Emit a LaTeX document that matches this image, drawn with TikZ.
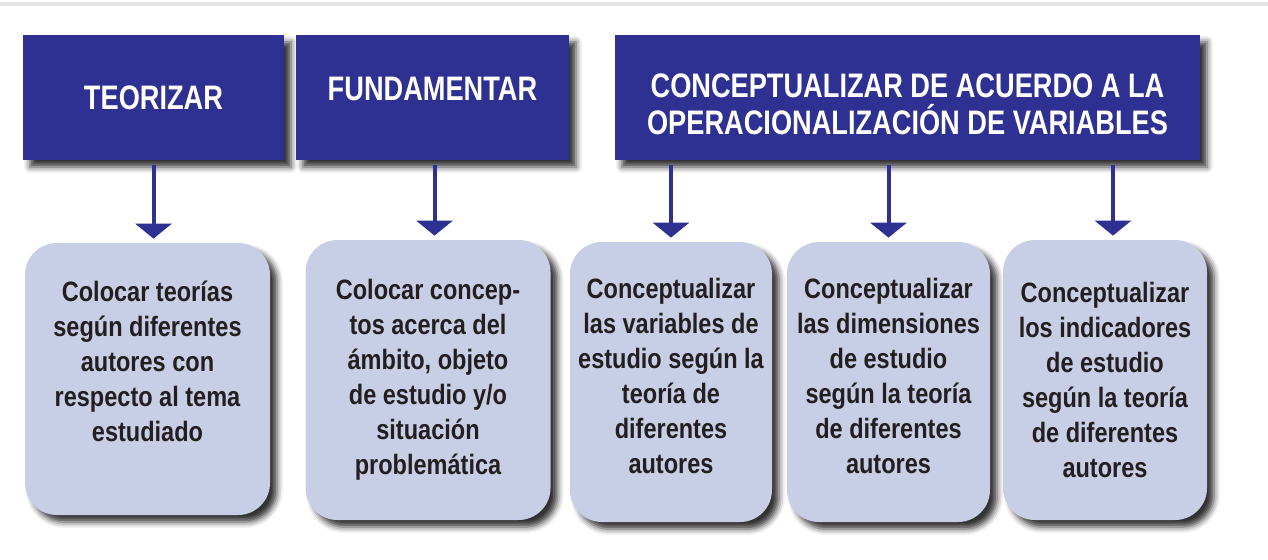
\documentclass[tikz,border=0pt]{standalone}
\usepackage{fontspec}
\setmainfont{Liberation Sans}
\newfontfamily\narrowsans[FakeStretch=0.8]{Liberation Sans}
\newfontfamily\cardsans[FakeStretch=0.84]{Liberation Sans}
\usepackage{tikz}
\usetikzlibrary{arrows.meta,shadows.blur}
\definecolor{headblue}{RGB}{46,49,146}
\definecolor{boxlila}{RGB}{200,206,230}
\definecolor{txtdark}{RGB}{35,31,32}
\tikzset{
	boxshadow/.style={blur shadow={shadow xshift=3.5pt, shadow yshift=-3.5pt, shadow blur radius=3pt, shadow opacity=80}},
	headbox/.style={boxshadow, fill=headblue, text=white, minimum height=62.5pt, inner sep=0pt, align=center,
		font=\narrowsans\bfseries\fontsize{17pt}{18.5pt}\selectfont},
	stepcard/.style={boxshadow, fill=boxlila, text=txtdark, rounded corners=16pt, minimum width=#1, inner sep=0pt, align=center,
		font=\cardsans\bfseries\fontsize{14pt}{17.5pt}\selectfont},
	downarrow/.style={draw=headblue, line width=2pt, -{Triangle[width=18pt,length=7.5pt]}, shorten <=2.5pt, shorten >=2pt}
}

\begin{document}
\begin{tikzpicture}[x=0.5pt,y=-0.5pt]
		\useasboundingbox (0,0) rectangle (1268,559);
		\fill[black!10] (0,2) rectangle (1268,6);
		% header boxes
		\node[headbox, minimum width=130.5pt] (teorizar) at (153.5,97.5) {TEORIZAR};
		\node[headbox, minimum width=136.5pt, text depth=9pt] (fundamentar) at (432.5,97.5) {FUNDAMENTAR};
		\node[headbox, minimum width=292.5pt] (conceptualizar) at (907.5,97.5) {\rule{0pt}{18.7pt}CONCEPTUALIZAR DE ACUERDO A LA\\OPERACIONALIZACIÓN DE VARIABLES};
		% cards
		\node[stepcard=122.5pt, minimum height=136pt] (teorias) at (147.5,379) {Colocar teorías\\según diferentes\\autores con\\respecto al tema\\estudiado\\\mbox{}};
		\node[stepcard=122.5pt, minimum height=140pt] (conceptos) at (428,380) {Colocar concep-\\tos acerca del\\ámbito, objeto\\de estudio y/o\\situación\\problemática};
		\node[stepcard=101pt, minimum height=140pt, text depth=6pt] (variables) at (671,382) {Conceptualizar\\las variables de\\estudio según la\\teoría de\\diferentes\\autores};
		\node[stepcard=101.5pt, minimum height=140pt, text depth=6pt] (dimensiones) at (888.5,382) {Conceptualizar\\las dimensiones\\de estudio\\según la teoría\\de diferentes\\autores};
		\node[stepcard=102pt, minimum height=140pt] (indicadores) at (1105,380) {Conceptualizar\\los indicadores\\de estudio\\según la teoría\\de diferentes\\autores};
		% arrows
		\draw[downarrow] (teorizar.south) -- (teorizar.south |- teorias.north);
		\draw[downarrow] ([xshift=1pt]fundamentar.south) -- ([xshift=1pt]fundamentar.south |- conceptos.north);
		\draw[downarrow] (variables.north |- conceptualizar.south) -- (variables.north);
		\draw[downarrow] (dimensiones.north |- conceptualizar.south) -- (dimensiones.north);
		\draw[downarrow] ([xshift=4pt]indicadores.north |- conceptualizar.south) -- ([xshift=4pt]indicadores.north);
	\end{tikzpicture}
\end{document}
